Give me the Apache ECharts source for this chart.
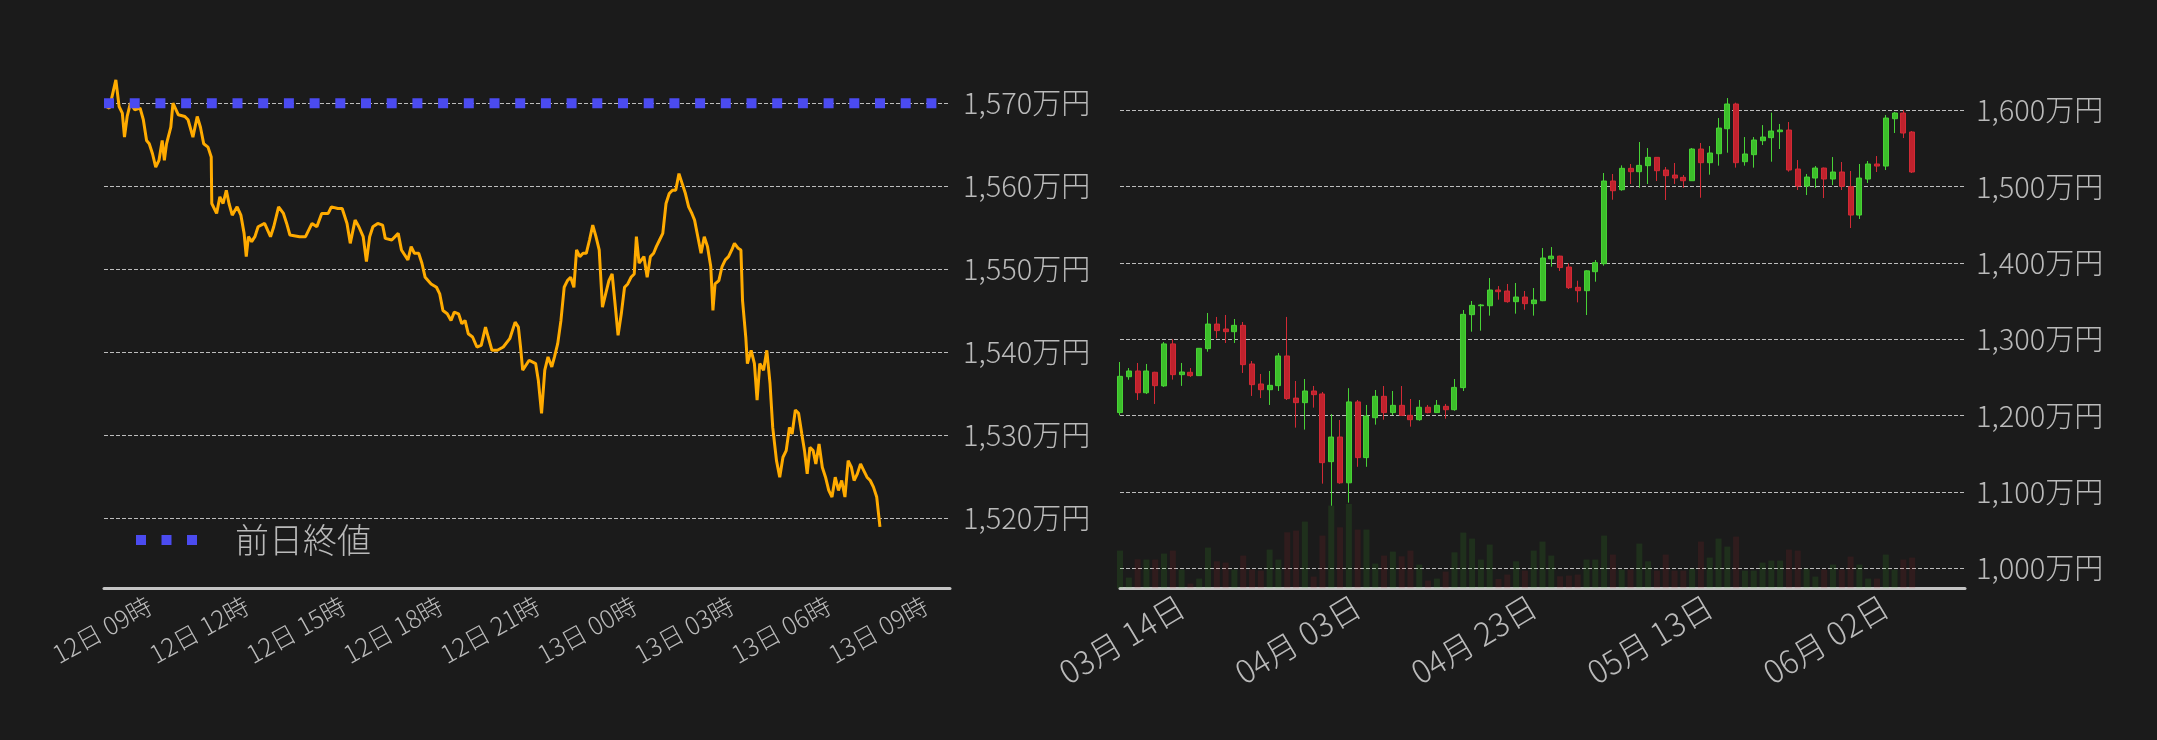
<!DOCTYPE html>
<html><head><meta charset="utf-8">
<script src="https://cdn.jsdelivr.net/npm/echarts@6/dist/echarts.min.js"></script>
<style>html,body{margin:0;padding:0;background:#1b1b1b;}#c{width:2157px;height:740px;}</style>
</head><body><div id="c"></div>
<script>
// ---------- left chart: intraday price (minutes after 12日 07:39) ----------
const lineMinutes = [0,6,18,24,30,34,39,45,53,63,69,75,80,86,92,98,104,108,112,120,124,134,146,152,161,169,175,181,189,195,196,205,211,217,223,228,234,243,250,256,260,264,270,276,282,294,305,311,320,329,335,341,359,370,382,391,400,412,418,430,438,447,453,462,469,477,483,489,495,504,513,518,530,542,548,560,566,572,580,586,592,603,613,619,625,633,640,646,654,660,666,672,680,688,696,704,709,716,726,737,749,759,765,769,773,785,797,802,808,814,820,827,832,838,844,850,856,862,868,873,879,885,891,897,903,909,915,921,927,933,939,945,950,956,962,968,974,980,984,989,998,1004,1010,1016,1021,1027,1033,1039,1045,1051,1057,1063,1069,1075,1081,1087,1092,1098,1104,1110,1116,1122,1126,1130,1137,1143,1149,1155,1161,1166,1173,1178,1181,1187,1190,1197,1203,1208,1213,1220,1226,1232,1237,1244,1250,1256,1262,1268,1273,1279,1285,1291,1296,1301,1306,1312,1317,1323,1329,1335,1341,1347,1353,1359,1365,1371,1377,1383,1388,1394,1400,1406,1412,1418,1424,1430,1436];
const linePrices = [1569.6,1569.4,1572.8,1569.6,1568.8,1565.9,1568.4,1570.0,1569.2,1569.4,1568.0,1565.5,1565.1,1563.9,1562.3,1563.1,1565.5,1563.1,1565.1,1567.1,1570.0,1568.6,1568.4,1568.0,1565.9,1568.4,1567.1,1565.1,1564.7,1563.5,1557.9,1556.7,1558.7,1557.9,1559.5,1557.9,1556.5,1557.5,1556.5,1554.3,1551.5,1553.9,1553.3,1553.9,1555.1,1555.5,1553.9,1555.1,1557.5,1556.7,1555.5,1554.1,1553.9,1553.9,1555.5,1555.1,1556.7,1556.7,1557.5,1557.3,1557.3,1555.5,1553.1,1555.9,1555.1,1553.9,1550.9,1553.9,1555.1,1555.5,1555.3,1553.7,1553.5,1554.3,1552.3,1551.1,1552.7,1551.9,1551.9,1550.7,1549.0,1548.2,1547.8,1547.0,1545.0,1544.6,1543.8,1544.8,1544.6,1543.4,1543.8,1542.2,1541.8,1540.6,1540.8,1543.0,1541.8,1540.2,1540.2,1540.6,1541.6,1543.6,1543.0,1540.6,1537.8,1539.0,1538.6,1536.6,1532.6,1537.8,1539.4,1538.2,1539.4,1541.0,1543.8,1547.8,1548.6,1549.0,1547.8,1552.3,1551.5,1551.9,1551.9,1553.5,1555.3,1553.9,1552.3,1545.4,1547.0,1548.6,1549.4,1545.4,1542.0,1544.6,1547.8,1548.2,1549.0,1549.4,1553.9,1550.7,1551.5,1549.0,1551.5,1551.9,1552.7,1553.5,1554.3,1557.9,1559.1,1559.5,1559.5,1561.5,1560.3,1559.1,1557.5,1556.7,1555.9,1553.9,1551.9,1553.9,1552.7,1550.3,1545.0,1548.2,1548.6,1550.3,1551.1,1551.5,1552.3,1553.1,1552.5,1552.3,1546.2,1541.8,1538.6,1540.2,1538.6,1534.2,1538.6,1537.8,1540.2,1536.2,1530.9,1526.9,1524.9,1527.3,1528.1,1530.9,1530.1,1533.0,1532.6,1530.1,1528.1,1525.3,1528.5,1528.1,1526.5,1528.9,1526.1,1524.9,1523.3,1522.5,1524.9,1523.3,1524.5,1522.5,1526.9,1526.1,1524.5,1525.3,1526.5,1525.7,1524.9,1524.5,1523.7,1522.5,1518.9];
const lineStartMinute = 459;            // 12日 07:39, minutes after 12日 00:00
const prevClose = 1570;
const leftXTicks = [540,720,900,1080,1260,1440,1620,1800,1980]; // 12日09時 … 13日09時
const leftYTicks = [1520,1530,1540,1550,1560,1570];

// ---------- right chart: daily candles ----------
const candleDates = ["03月 07日","03月 08日","03月 09日","03月 10日","03月 11日","03月 12日","03月 13日","03月 14日","03月 15日","03月 16日","03月 17日","03月 18日","03月 19日","03月 20日","03月 21日","03月 22日","03月 23日","03月 24日","03月 25日","03月 26日","03月 27日","03月 28日","03月 29日","03月 30日","03月 31日",
"04月 01日","04月 02日","04月 03日","04月 04日","04月 05日","04月 06日","04月 07日","04月 08日","04月 09日","04月 10日","04月 11日","04月 12日","04月 13日","04月 14日","04月 15日","04月 16日","04月 17日","04月 18日","04月 19日","04月 20日","04月 21日","04月 22日","04月 23日","04月 24日","04月 25日","04月 26日","04月 27日","04月 28日","04月 29日","04月 30日",
"05月 01日","05月 02日","05月 03日","05月 04日","05月 05日","05月 06日","05月 07日","05月 08日","05月 09日","05月 10日","05月 11日","05月 12日","05月 13日","05月 14日","05月 15日","05月 16日","05月 17日","05月 18日","05月 19日","05月 20日","05月 21日","05月 22日","05月 23日","05月 24日","05月 25日","05月 26日","05月 27日","05月 28日","05月 29日","05月 30日","05月 31日",
"06月 01日","06月 02日","06月 03日","06月 04日","06月 05日","06月 06日","06月 07日","06月 08日","06月 09日","06月 10日","06月 11日"];
const openPrices  = [1204,1251,1258.5,1230,1256.8,1239,1294,1253.7,1256.8,1252.4,1287.8,1320,1313.5,1310,1318.3,1267.7,1241.5,1234,1239.3,1278.2,1223,1217,1232.3,1228.4,1139.7,1172,1112,1218,1145,1197.3,1225.3,1204,1213.5,1200.4,1194.7,1211,1204,1212.2,1207.8,1236.7,1332.3,1344,1344,1364.6,1363.3,1349.3,1355.4,1346.7,1350.6,1405.5,1409,1394.7,1368.1,1363.7,1388.6,1399.1,1507.4,1496,1524,1519.6,1527.5,1538.4,1521.8,1515.2,1512.2,1507.8,1549.3,1531.4,1543.2,1575.9,1608.3,1532.7,1541.9,1560.2,1564.2,1572,1574.2,1523.1,1500.8,1511.3,1524.4,1510,1519.2,1500,1462.8,1510,1529.7,1527,1589,1596.5,1571.6];
const closePrices = [1251.5,1258.5,1230,1258.5,1239.3,1294,1253.7,1257.2,1252.4,1288.2,1320,1311.4,1310,1318.3,1266.8,1240.6,1234,1239.7,1278.2,1222.3,1217,1232.3,1227.5,1138.4,1172,1112,1218,1145,1199.5,1225.3,1204,1213.5,1200.4,1194.7,1211,1204,1213.5,1207.8,1237,1332.7,1344.5,1345,1364.6,1362.4,1349.3,1355.4,1346.7,1351.5,1406.5,1409,1394,1367.6,1363.7,1389.7,1400.4,1507.4,1494.7,1524,1519.6,1527.9,1538.4,1520.9,1514.4,1511.3,1507.8,1549.3,1531.4,1544.1,1576.8,1608.3,1531.4,1542.8,1561.1,1565,1572.9,1574.2,1521.8,1500.8,1512.6,1524.4,1510,1519.2,1500.4,1462.8,1511.3,1529.7,1527,1589.9,1596.5,1570.3,1519.2];
const lowPrices   = [1200.4,1247,1220.5,1228.4,1215.3,1237.6,1247.2,1239,1250.7,1252,1283.8,1301.3,1295.2,1295.2,1255.9,1225.8,1223,1214,1232.3,1220.5,1184.3,1181.7,1210.5,1110.9,1082,1110.8,1086,1133,1133,1188.2,1194.7,1200.8,1200,1185.6,1193.4,1203,1203.5,1196,1206.5,1232.3,1310,1311.3,1331,1351.9,1348,1333.6,1338.8,1331,1350,1395.2,1389.5,1365.9,1348.4,1331.8,1375.5,1396.5,1482.9,1494.7,1503.5,1498.6,1503.5,1507.4,1482.5,1503.5,1498.6,1507.5,1485.5,1515.7,1527.5,1544.5,1524.9,1527.5,1524.9,1554.5,1532.7,1549.3,1519.6,1495.6,1489,1498.2,1485.1,1502.1,1495.6,1445.8,1457.6,1504.8,1519.2,1521.8,1570.3,1563.7,1517.9];
const highPrices  = [1270.3,1262.4,1269,1267.7,1257.5,1296.5,1300,1269,1262.4,1288.5,1334.5,1329.3,1331.9,1326.6,1322.7,1271.6,1254.6,1258.5,1282,1329.3,1245.4,1248,1238.9,1231,1202,1194.3,1236,1220.5,1214,1233.6,1238.8,1232.3,1238.8,1221.8,1220.5,1214,1220.5,1215.3,1248,1338.4,1350.2,1346.3,1380.3,1369.8,1372.5,1373.8,1363.3,1367.2,1419.6,1420.9,1409.5,1399.5,1376.8,1390.5,1403.9,1517.9,1516.6,1527.9,1529.7,1558.5,1550.6,1538.8,1525.7,1531,1515.2,1550.6,1557.2,1553.2,1589.9,1616.1,1610,1565,1565,1580.7,1596.9,1582.1,1584.7,1534.9,1516.6,1527,1525,1538.8,1532.3,1520.5,1529.7,1533.6,1540.1,1593.8,1597.8,1600.4,1572.9];
const volumes     = [377,107,290,287,287,347,377,187,47,97,407,270,257,187,327,187,177,387,287,560,577,667,117,527,827,610,843,587,587,247,327,367,320,377,237,77,97,167,360,557,497,287,437,93,137,270,177,377,467,327,120,127,137,287,287,527,337,187,187,447,270,177,337,177,177,197,467,307,497,417,517,177,177,257,277,277,387,377,197,117,187,237,187,317,237,97,97,337,187,287,307];
const rightYTicks = [1000,1100,1200,1300,1400,1500,1600];

// ---------- styles ----------
const BG = '#1b1b1b';
const TXT = '#bababa';
const GRIDC = '#bdbdbd';
const FONT = '"Noto Sans CJK JP","Noto Sans",sans-serif';
const UP = '#3cbf2a', DOWN = '#c0222d';
const BLUE = '#4b4bf0';

const lineData = lineMinutes.map((m, i) => [lineStartMinute + m, linePrices[i]]);
const xMin = 455, xMax = 2025;   // 12日 07:35 … 13日 09:45

const candleData = openPrices.map((o, i) => [o, closePrices[i], lowPrices[i], highPrices[i]]);
const volData = volumes.map((v, i) => ({
  value: v,
  itemStyle: { color: closePrices[i] >= openPrices[i] ? 'rgba(60,190,40,0.13)' : 'rgba(190,40,50,0.13)' }
}));

const pad2 = n => (n < 10 ? '0' : '') + n;
const yen = v => v.toLocaleString('en-US') + '万円';
const hourLabel = v => {
  const day = 12 + Math.floor(v / 1440);
  const h = Math.round((v % 1440) / 60);
  return pad2(day) + '日 ' + pad2(h) + '時';
};

const chart = echarts.init(document.getElementById('c'), null, { renderer: 'canvas' });
chart.setOption({
  backgroundColor: BG,
  animation: false,
  textStyle: { fontFamily: FONT },
  grid: [
    { left: 104, right: 1207, top: 70, bottom: 151.7 },
    { left: 1120, right: 192, top: 79.8, bottom: 151.7 }
  ],
  legend: {
    data: [{ name: '前日終値', icon: 'path://M0,0h10v10h-10z M25.5,0h10v10h-10z M51,0h10v10h-10z' }],
    left: 131, top: 518,
    itemWidth: 61, itemHeight: 10,
    textStyle: { color: TXT, fontSize: 34, fontWeight: 300, fontFamily: FONT, padding: [0, 0, 0, 33] }
  },
  xAxis: [
    {
      type: 'value', gridIndex: 0, min: xMin, max: xMax,
      axisLine: { lineStyle: { color: '#c4c4c4', width: 3 } },
      axisTick: { show: false, customValues: leftXTicks },
      splitLine: { show: false },
      axisLabel: {
        customValues: leftXTicks,
        rotate: 29, margin: 15, color: TXT, fontSize: 25, fontWeight: 300, fontFamily: FONT,
        formatter: hourLabel
      }
    },
    {
      type: 'category', gridIndex: 1, data: candleDates, boundaryGap: false,
      axisLine: { lineStyle: { color: '#c4c4c4', width: 3 } },
      axisTick: { show: false },
      splitLine: { show: false },
      axisLabel: {
        interval: (idx) => idx % 20 === 7,
        rotate: 31, margin: 15, color: TXT, fontSize: 32, fontWeight: 300, fontFamily: FONT
      }
    }
  ],
  yAxis: [
    {
      type: 'value', gridIndex: 0, position: 'right', min: 1511.5, max: 1574,
      axisLine: { show: false },
      axisTick: { show: false, customValues: leftYTicks },
      splitLine: { show: true, lineStyle: { color: GRIDC, width: 1, type: [4, 2] } },
      axisLabel: { customValues: leftYTicks, color: TXT, fontSize: 29, fontWeight: 300, fontFamily: FONT, margin: 13, formatter: yen }
    },
    {
      type: 'value', gridIndex: 1, position: 'right', min: 973.8, max: 1640,
      axisLine: { show: false },
      axisTick: { show: false, customValues: rightYTicks },
      splitLine: { show: true, lineStyle: { color: GRIDC, width: 1, type: [4, 2] } },
      axisLabel: { customValues: rightYTicks, color: TXT, fontSize: 29, fontWeight: 300, fontFamily: FONT, margin: 11, formatter: yen }
    },
    {
      type: 'value', gridIndex: 1, min: 0, max: 5085, show: false,
      splitLine: { show: false }
    }
  ],
  series: [
    {
      name: '価格', type: 'line', xAxisIndex: 0, yAxisIndex: 0,
      data: lineData, showSymbol: false, symbol: 'none',
      lineStyle: { color: '#ffab00', width: 3 }, z: 3
    },
    {
      name: '前日終値', type: 'line', xAxisIndex: 0, yAxisIndex: 0,
      data: [[xMin, prevClose], [xMax, prevClose]], symbol: 'none',
      itemStyle: { color: BLUE },
      lineStyle: { color: BLUE, width: 10, type: [10, 15.7], cap: 'butt' }, z: 4
    },
    {
      name: '出来高', type: 'bar', xAxisIndex: 1, yAxisIndex: 2,
      data: volData, barWidth: 6, z: 1
    },
    {
      name: 'ローソク足', type: 'candlestick', xAxisIndex: 1, yAxisIndex: 1,
      data: candleData, barWidth: 5.5, z: 3,
      itemStyle: { color: UP, color0: DOWN, borderColor: '#48d236', borderColor0: '#d22a35', borderWidth: 1 }
    }
  ]
});
</script>
</body></html>
